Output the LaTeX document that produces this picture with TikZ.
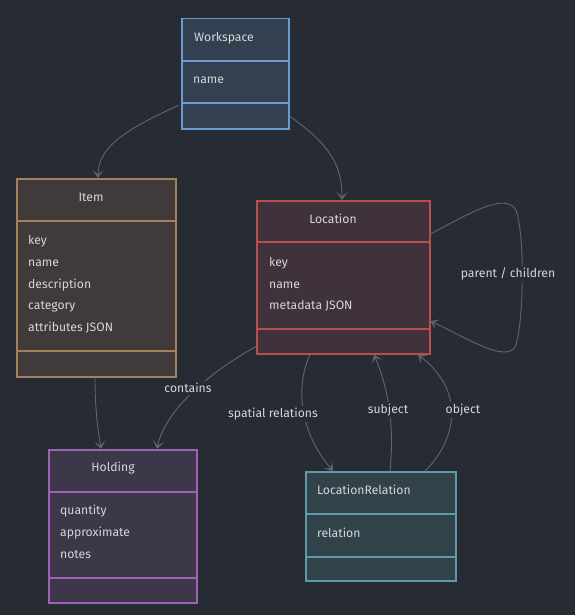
\documentclass[tikz,border=0pt]{standalone}
\usepackage{fontspec}
\setmainfont{Fira Sans}
\usetikzlibrary{calc,arrows.meta}
\definecolor{bg}{HTML}{272B33}
\definecolor{edgec}{HTML}{5F6673}
\definecolor{txt}{HTML}{D6D6D6}
\definecolor{wsf}{HTML}{33404F}\definecolor{wsb}{HTML}{6A9BD1}
\definecolor{itf}{HTML}{403B3A}\definecolor{itb}{HTML}{A3815C}
\definecolor{lof}{HTML}{40323A}\definecolor{lob}{HTML}{B5504A}
\definecolor{hof}{HTML}{3C3749}\definecolor{hob}{HTML}{9E62B5}
\definecolor{lrf}{HTML}{31424B}\definecolor{lrb}{HTML}{5E9BA8}
\begin{document}
\begin{tikzpicture}[x=1pt,y=-1pt,
  cls/.style={draw, line width=1.5pt, anchor=north west, inner sep=0pt},
  ttl/.style={text=txt, font=\fontsize{12.2}{14}\selectfont, inner sep=1pt},
  attr/.style={text=txt, font=\fontsize{12.2}{14}\selectfont, anchor=west, inner sep=0pt},
  lbl/.style={text=txt, font=\fontsize{12.2}{14}\selectfont, fill=bg, inner sep=2pt},
  edge/.style={draw=edgec, line width=0.9pt, -{Stealth[length=8pt,width=11pt,inset=4.5pt]}}]
\fill[bg] (0,0) rectangle (575,615);
\useasboundingbox (0,0) rectangle (575,615);

% Workspace
\node[cls, draw=wsb, fill=wsf, minimum width=107pt, minimum height=110pt] (ws) at (181,18) {};
\draw[wsb, line width=1.5pt] ($(ws.north west)+(0,43)$) -- ($(ws.north east)+(0,43)$);
\draw[wsb, line width=1.5pt] ($(ws.north west)+(0,85)$) -- ($(ws.north east)+(0,85)$);
\node[ttl] (wst) at (224,38) {Workspace};
\node[attr] (wsa1) at (193,80) {name};

% Item
\node[cls, draw=itb, fill=itf, minimum width=159pt, minimum height=198pt] (it) at (16,178) {};
\draw[itb, line width=1.5pt] ($(it.north west)+(0,43)$) -- ($(it.north east)+(0,43)$);
\draw[itb, line width=1.5pt] ($(it.north west)+(0,173)$) -- ($(it.north east)+(0,173)$);
\node[ttl] (itt) at (91,197) {Item};
\node[attr] (ita1) at (28,241) {key};
\node[attr] (ita2) at (28,263) {name};
\node[attr] (ita3) at (28,285) {description};
\node[attr] (ita4) at (28,307) {category};
\node[attr] (ita5) at (28,328) {attributes JSON};

% Location
\node[cls, draw=lob, fill=lof, minimum width=173pt, minimum height=153pt] (lo) at (256,200) {};
\draw[lob, line width=1.5pt] ($(lo.north west)+(0,42)$) -- ($(lo.north east)+(0,42)$);
\draw[lob, line width=1.5pt] ($(lo.north west)+(0,129)$) -- ($(lo.north east)+(0,129)$);
\node[ttl] (lot) at (333,219) {Location};
\node[attr] (loa1) at (269,263) {key};
\node[attr] (loa2) at (269,285) {name};
\node[attr] (loa3) at (269,306) {metadata JSON};

% Holding
\node[cls, draw=hob, fill=hof, minimum width=148pt, minimum height=153pt] (ho) at (48,449) {};
\draw[hob, line width=1.5pt] ($(ho.north west)+(0,43)$) -- ($(ho.north east)+(0,43)$);
\draw[hob, line width=1.5pt] ($(ho.north west)+(0,129)$) -- ($(ho.north east)+(0,129)$);
\node[ttl] (hot) at (113,468) {Holding};
\node[attr] (hoa1) at (60,511) {quantity};
\node[attr] (hoa2) at (60,533) {approximate};
\node[attr] (hoa3) at (60,555) {notes};

% LocationRelation
\node[cls, draw=lrb, fill=lrf, minimum width=150pt, minimum height=109pt] (lr) at (305,471) {};
\draw[lrb, line width=1.5pt] ($(lr.north west)+(0,43)$) -- ($(lr.north east)+(0,43)$);
\draw[lrb, line width=1.5pt] ($(lr.north west)+(0,86)$) -- ($(lr.north east)+(0,86)$);
\node[ttl, anchor=west] (lrt) at (316,490) {LocationRelation};
\node[attr] (lra1) at (317,533) {relation};

% Edges
\draw[edge] ($(ws.north west)+(-2,87)$) .. controls (130,128) and (98,145) .. (it.north -| 98,0);
\draw[edge] ($(ws.north east)+(0,98)$) .. controls (330,145) and (342,165) .. (lo.north -| 342,0);
\draw[edge] ($(lo.north east)+(0,34)$) .. controls (470,213) and (505,192) .. (516,210)
   .. controls (526,240) and (523,330) .. (515,347)
   .. controls (505,362) and (470,340) .. ($(lo.north east)+(0,121)$);
\node[lbl] (l1) at (508,274) {parent / children};

\draw[edge] ($(it.south west)+(79,0)$) .. controls (95,410) and (98,430) .. ($(ho.north west)+(53,0)$);

\draw[edge] ($(lo.south west)+(0,-8)$) .. controls (210,372) and (165,410) .. ($(ho.north west)+(109,0)$);
\node[lbl] (l2) at (188,388) {contains};

\draw[edge] ($(lo.south west)+(54,0)$) .. controls (296,385) and (298,430) .. ($(lr.north west)+(28,0)$);
\node[lbl] (l3) at (273,414) {spatial relations};

\draw[edge] ($(lr.north west)+(85,0)$) .. controls (393,440) and (393,400) .. ($(lo.south west)+(118,0)$);
\node[lbl] (l4) at (388,410) {subject};

\draw[edge] ($(lr.north west)+(120,0)$) .. controls (452,445) and (470,395) .. ($(lo.south west)+(162,0)$);
\node[lbl] (l5) at (463,410) {object};
\end{tikzpicture}
\end{document}
